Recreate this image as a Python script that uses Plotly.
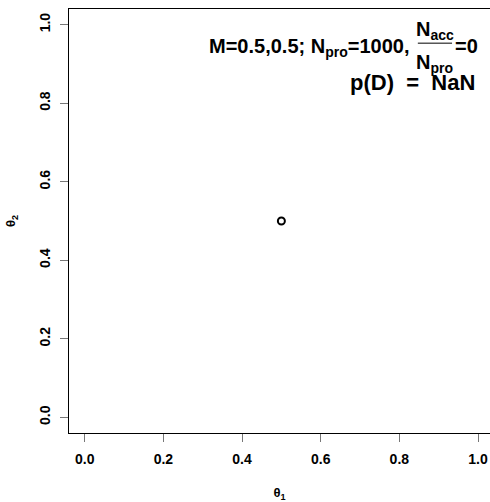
import plotly.graph_objects as go

# data
theta1 = [0.5]
theta2 = [0.5]
tick_vals = [0.0, 0.2, 0.4, 0.6, 0.8, 1.0]
tick_text = ["0.0", "0.2", "0.4", "0.6", "0.8", "1.0"]

FONT = "Liberation Sans, Arial, sans-serif"

fig = go.Figure()

fig.add_trace(go.Scatter(
    x=theta1,
    y=theta2,
    mode="markers",
    marker=dict(symbol="circle-open", size=7, color="black", line=dict(width=2, color="black")),
    showlegend=False,
    hoverinfo="skip",
))

# text in the top right corner (data coordinates)
label_font = dict(family=FONT, size=20, color="black")
fig.add_annotation(x=0.829, y=0.943, xref="x", yref="y", xanchor="right", yanchor="middle",
                   text="<b>M=0.5,0.5; N<sub>pro</sub>=1000,</b>", showarrow=False, font=label_font)
fig.add_annotation(x=0.89, y=0.986, xref="x", yref="y", xanchor="center", yanchor="middle",
                   text="<b>N<sub>acc</sub></b>", showarrow=False, font=label_font)
fig.add_annotation(x=0.89, y=0.902, xref="x", yref="y", xanchor="center", yanchor="middle",
                   text="<b>N<sub>pro</sub></b>", showarrow=False, font=label_font)
fig.add_annotation(x=0.936, y=0.945, xref="x", yref="y", xanchor="left", yanchor="middle",
                   text="<b>=0</b>", showarrow=False, font=label_font)
fig.add_annotation(x=0.997, y=0.852, xref="x", yref="y", xanchor="right", yanchor="middle",
                   text="<b>p(D)&nbsp; =&nbsp; NaN</b>", showarrow=False,
                   font=dict(family=FONT, size=22, color="black"))
fig.add_shape(type="line", xref="x", yref="y", x0=0.847, x1=0.934, y0=0.953, y1=0.953,
              line=dict(color="black", width=1))

tick_font = dict(family=FONT, size=14, color="black")

fig.update_xaxes(
    range=[-0.04, 1.0305],
    tickvals=tick_vals,
    ticktext=["<b>%s</b>" % t for t in tick_text],
    tickfont=tick_font,
    ticks="outside",
    ticklen=8,
    tickcolor="#777777",
    tickwidth=1,
    ticklabelstandoff=5,
    showline=True,
    linecolor="black",
    linewidth=1,
    mirror=True,
    showgrid=False,
    zeroline=False,
    automargin=False,
    title=dict(text="<b>θ<sub>1</sub></b>", font=dict(family=FONT, size=13, color="black"), standoff=26),
)
fig.update_yaxes(
    range=[-0.04, 1.04],
    tickvals=tick_vals,
    ticktext=["<b>%s</b>" % t for t in tick_text],
    tickfont=tick_font,
    tickangle=-90,
    ticks="outside",
    ticklen=8,
    tickcolor="#777777",
    tickwidth=1,
    ticklabelstandoff=4,
    showline=True,
    linecolor="black",
    linewidth=1,
    mirror=False,
    showgrid=False,
    zeroline=False,
    automargin=False,
    title=dict(text="<b>θ<sub>2</sub></b>", font=dict(family=FONT, size=13, color="black"), standoff=18),
)

fig.update_layout(
    width=490,
    height=502,
    margin=dict(l=69, r=0, t=9, b=69),
    plot_bgcolor="white",
    paper_bgcolor="white",
    font=dict(family=FONT),
)

# drop the default page margin so the figure fills the window exactly
fig.write_html("out.html", config={"displayModeBar": False},
               post_script="document.body.style.margin = '0';")
